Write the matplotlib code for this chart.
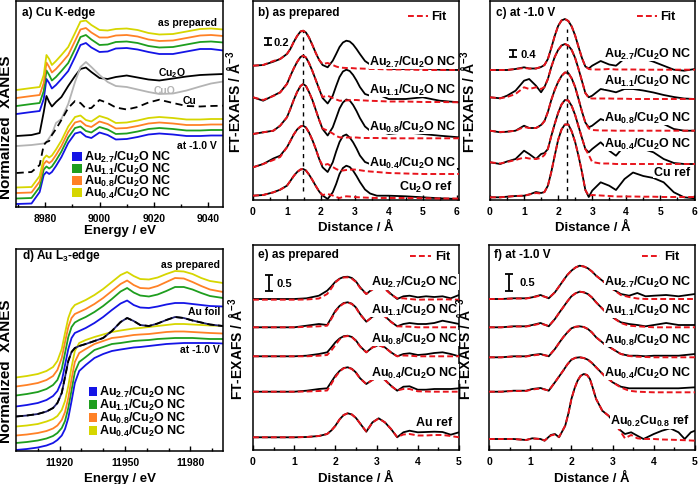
import matplotlib
matplotlib.use('Agg')
import matplotlib.pyplot as plt
from matplotlib.patches import Rectangle

plt.rcParams['font.family'] = ['Liberation Sans', 'DejaVu Sans']
plt.rcParams['font.weight'] = 'bold'
plt.rcParams['axes.labelweight'] = 'bold'
plt.rcParams['mathtext.fontset'] = 'custom'
plt.rcParams['mathtext.rm'] = 'Liberation Sans:bold'
plt.rcParams['mathtext.it'] = 'Liberation Sans:bold'
plt.rcParams['mathtext.bf'] = 'Liberation Sans:bold'

# ---------------- data (y in arbitrary stacked units) ----------------
labels = ['Au$_{2.7}$/Cu$_2$O NC', 'Au$_{1.1}$/Cu$_2$O NC',
          'Au$_{0.8}$/Cu$_2$O NC', 'Au$_{0.4}$/Cu$_2$O NC']

# a) Cu K-edge XANES
a_E = [8969.5, 8975, 8978, 8979.5, 8980.5, 8981.5, 8982.5, 8984, 8986, 8988.5, 8991, 8993, 8995,
       8997, 9000, 9003, 9006, 9010, 9014, 9018, 9022, 9027, 9032, 9037, 9041, 9045.5]
a_prep_27 = [93, 95, 96, 108, 128, 124, 118.5, 122, 128, 136, 150, 162, 164, 159.5, 155, 155.5,
             158.5, 159, 157.5, 155, 153, 153, 155.5, 158, 158, 156.5]
a_prep_11 = [101, 103, 104, 116, 136.5, 132, 126.5, 130, 136, 144, 158, 170, 172, 167.5, 162,
             162.5, 165, 165.5, 164, 161, 159.5, 160, 162.5, 165, 165.5, 164.5]
a_prep_08 = [109, 111, 112, 124, 144.5, 140, 134.5, 138, 144, 152, 166, 177.5, 179, 174.5, 169.5,
             169.5, 171.5, 172, 170.5, 167.5, 166, 166.5, 169, 171.5, 172, 171]
a_prep_04 = [117, 119, 120, 132, 152, 148, 142, 146, 152, 160, 174, 185.5, 186.5, 182, 177, 176.5,
             178, 178.5, 177, 174, 172.5, 173, 175.5, 178, 178.5, 177.5]
a_cu2o = [71, 72, 74, 95, 111, 105, 100.5, 105, 110, 121, 131, 138, 139.5, 135, 129, 128, 130,
          131.5, 129.5, 127.5, 126.5, 128.5, 130.5, 132, 132.5, 133]
a_cuo = [61, 62, 63, 63.5, 65, 69, 73, 84, 88, 103, 125, 140, 145, 140, 132, 125, 121, 120,
         117.5, 115, 113, 113.5, 116.5, 120.5, 123.5, 125.5]
a_cu = [34, 35, 42, 62, 65, 66, 72, 78, 87, 99, 106, 104, 98.5, 99, 107, 104, 99.5, 97.5, 100,
        104.5, 107.3, 104, 101, 100.5, 101, 101.3]
a_v_27 = [3, 3.5, 15, 32, 35, 33, 35, 41, 50, 64, 73.5, 75, 70.5, 69, 74.5, 72, 67.5, 68, 70,
          72.5, 73.5, 72.5, 71, 71, 71.5, 71.5]
a_v_11 = [8.5, 9, 20, 37.5, 40.5, 38.5, 40.5, 46.5, 55.5, 69.5, 79, 80.5, 76, 74.5, 80, 77.5, 73,
          73.5, 75.5, 78, 79, 78, 76.5, 76.5, 77, 77]
a_v_08 = [14, 14.5, 25.5, 43, 46, 44, 46, 52, 61, 75, 84.5, 86, 81.5, 80, 85.5, 83, 78.5, 79,
          81, 83.5, 84.5, 83.5, 82, 82, 82.5, 82.5]
a_v_04 = [19.5, 20, 31, 48.5, 51.5, 49.5, 51.5, 57.5, 66.5, 80.5, 90, 91.5, 87, 85.5, 91, 88.5,
          84, 84.5, 86.5, 89, 90, 89, 87.5, 87.5, 88, 88]

# d) Au L3-edge XANES
d_E = [11900, 11905, 11910, 11914, 11917, 11919, 11921, 11922.5, 11924, 11925.5, 11927, 11929,
       11932, 11936, 11940, 11944, 11948, 11951, 11954, 11957, 11961, 11965, 11969, 11973, 11977,
       11981, 11985, 11989, 11995]
d_prep_04 = [73.5, 75, 77, 80, 84, 90, 102, 118, 133, 142, 146, 148, 151, 156, 162, 169, 176, 179,
             175, 172, 171.5, 173.5, 177, 180, 179.5, 177, 173, 170, 168]
d_prep_08 = [64.5, 66, 68, 71, 75, 81, 93, 109, 124, 133, 137, 139, 142, 147, 153, 160, 167, 170.5,
             166, 163, 162.5, 165, 169, 173, 172.5, 169, 165, 161.5, 159]
d_prep_11 = [55.5, 57, 59, 62, 66, 71, 82, 98, 114, 124, 128.5, 131, 134, 139, 145, 152, 159.5, 163,
             158.5, 155.5, 154.5, 156.5, 160, 164, 164, 161.5, 158, 155, 153]
d_prep_27 = [44.5, 46, 48, 51, 55, 60, 70, 86, 102, 113, 118, 120, 123, 128, 134, 141, 147.5, 150.5,
             146, 143.5, 143, 144.5, 146.5, 148, 148, 147, 146, 145, 144.5]
d_foil = [34.5, 35.5, 37, 39.5, 43, 48, 58, 74, 90, 99, 103, 105, 107, 110, 113, 120, 129, 133, 130,
          126, 125, 127.5, 131, 134, 133, 130.5, 128.5, 126.5, 125]
d_v_04 = [24.5, 25.5, 27, 29.5, 32, 35, 41, 50, 65, 84, 100, 108, 111, 114, 116.5, 119, 120.5,
          121.5, 122.5, 123, 124, 125, 126, 127, 127, 126.5, 126, 125.5, 125]
d_v_08 = [15.5, 16.5, 18, 20, 22.5, 25.5, 31, 39, 53, 72, 89, 98, 102, 107, 110, 113, 114, 115, 116,
          116.5, 117, 118, 119, 119.5, 119.5, 119, 118.5, 118, 117.5]
d_v_11 = [8, 9, 10.5, 12.5, 15, 18, 23, 30, 43, 61, 79, 89, 94, 101, 104, 107, 108, 109, 110, 110.5,
          111, 112, 112.5, 113, 113, 113, 112.5, 112, 112]
d_v_27 = [1, 2, 3.5, 5.5, 8, 11, 15.5, 22, 33, 50, 68, 80, 86, 93, 97, 100, 101.5, 102.5, 103.5,
          104, 105, 106, 107, 107.5, 108, 108, 108, 108, 107.5]

# b) FT-EXAFS Cu K, as prepared
b_r = [0, 0.3, 0.6, 0.8, 1.0, 1.1, 1.2, 1.3, 1.4, 1.48, 1.56, 1.65, 1.75, 1.85, 1.95, 2.05, 2.2,
       2.35, 2.45, 2.55, 2.65, 2.75, 2.85, 2.95, 3.05, 3.15, 3.3, 3.45, 3.65, 4.0, 4.5, 5.0, 5.5,
       6.07]
b_27 = [134.3, 135, 138.3, 141, 146, 151, 158, 164, 168.5, 169.3, 167.5, 162.5, 155, 147, 140,
        135, 132.7, 139.3, 146, 153, 157.5, 159.3, 158.5, 155.5, 151, 146, 139, 135.5, 134.3, 131,
        131, 131.7, 130.3, 130]
b_27_fit = [134.3, 135, 139, 141, 146, 151, 158, 164, 168.5, 169.3, 167.5, 162.5, 155, 147, 140,
            136, 137, 135, 133.5, 132.5, 132.2, 132, 132, 131.8, 131.5, 131.5, 131.3, 131, 131,
            130.5, 130.5, 130, 130, 130]
b_11 = [102.7, 99.3, 104.3, 107.7, 116, 124, 131.5, 138, 143, 144.3, 142.5, 137, 129, 120, 111,
        102, 96.5, 104.3, 114, 123, 128.5, 130.3, 129, 125, 119.5, 113, 106, 104.3, 106, 101, 101,
        102.7, 99.3, 97.7]
b_11_fit = [102.7, 100, 104, 107.5, 116, 124, 131.5, 138, 143, 144.3, 142.5, 137, 129, 120, 111,
            103, 104.3, 102, 100.5, 99.3, 99.3, 99.5, 99.8, 100, 100, 99.7, 99.5, 99.2, 99, 98.5,
            98.5, 98, 98, 97.7]
b_08 = [66, 67.7, 69.3, 74.3, 82.7, 91, 100, 108, 114, 116, 114, 108, 100, 90, 80, 71, 64.5,
        72.7, 82, 91.5, 97.5, 100.5, 99.5, 95, 89, 82, 73.5, 69.3, 69.3, 66, 67.7, 66, 64.3, 62.7]
b_08_fit = [66, 67.7, 69.3, 74.3, 82.7, 91, 100, 108, 114, 116, 114, 108, 100, 90, 80, 71.5,
            69.3, 66.5, 64, 62.7, 62.5, 62.5, 62.5, 62.5, 62.5, 62.2, 62, 62, 62, 61.7, 61.7,
            61.7, 61.7, 61.7]
b_04 = [32.7, 36, 41.5, 44.3, 52.7, 59, 65.5, 70.5, 73.5, 74.3, 72.5, 67.5, 60, 51, 41, 32.7,
        28, 37.7, 48.5, 58, 64, 65.5, 62.5, 57.7, 51.5, 44.5, 38, 36, 34.3, 31, 34.3, 31, 32.7, 31]
b_04_fit = [32.7, 36, 40, 43, 52.7, 59, 65.5, 70.5, 73.5, 74.3, 72.5, 67.5, 60, 51, 41, 34.5,
            36, 33, 31, 29.5, 29.5, 30, 30.3, 30.5, 30.3, 29.8, 29, 28.5, 28, 27, 26.5, 26, 26,
            26]
b_ref = [4.3, 5, 7.7, 10.3, 14.3, 19, 24, 28, 30.5, 31, 29.5, 25.5, 20, 14, 8.5, 4.5, 1, 7.7,
         16, 26, 32, 34.3, 33, 29.3, 24, 18, 10.5, 6.5, 4.3, 4.3, 3.7, 2.7, 1.7, 1]
b_ref_fit = [4.3, 5, 7.7, 10.3, 14.3, 19, 24, 28, 30.5, 31, 29.5, 25.5, 20, 14, 8.5, 5, 6, 4.5,
             3, 2, 3, 3.7, 3.5, 3, 2.8, 2.6, 2.4, 2.2, 2, 2, 2, 1.8, 1.5, 1.5]

# c) FT-EXAFS Cu K, at -1.0 V
c_r = [0, 0.3, 0.5, 0.75, 1.0, 1.15, 1.35, 1.5, 1.6, 1.7, 1.8, 1.9, 2.0, 2.1, 2.2, 2.3, 2.4, 2.5,
       2.6, 2.7, 2.8, 2.9, 3.0, 3.25, 3.5, 3.7, 3.95, 4.2, 4.5, 4.8, 5.1, 5.4, 5.7, 6.02]
c_27 = [130, 130, 130, 131, 132.7, 131.5, 131.5, 133, 135, 141, 152, 164, 174, 179.5, 181, 179,
        173.5, 164.5, 153, 142, 133.5, 131.5, 134.3, 139, 135.5, 134.3, 141.5, 142.7, 141.7,
        138.3, 134.3, 130.3, 129.3, 131]
c_27_fit = [130, 130, 130, 131, 132, 131.5, 131.5, 133, 135, 141, 152, 164, 174, 179.5, 181, 179,
            173.5, 164.5, 153, 142, 133.5, 131, 130.5, 130.5, 131, 130.5, 130.5, 130.5, 130.3,
            130.3, 130.3, 130.3, 130.3, 130.3]
c_11 = [102.7, 101.7, 104.3, 109.3, 119.3, 121, 114.3, 107.7, 113, 121, 133, 143, 150, 154.5,
        156, 154.5, 150, 142, 131, 119, 107, 102.7, 104.3, 111, 109.3, 107.7, 111, 111, 109.5,
        107.5, 105, 103, 101.5, 101]
c_11_fit = [102.7, 101.7, 103, 106, 112.7, 111, 112.7, 111, 113, 121, 133, 143, 150, 154.5, 156,
            154.5, 150, 142, 131, 119, 107, 102, 101.5, 101.5, 101.5, 101.3, 101.3, 101, 101, 101,
            101, 101, 101, 101]
c_08 = [69.3, 67.7, 68.3, 69.3, 74.3, 72, 72, 75, 79, 88, 100, 110, 118, 124, 127.5, 127, 121.5,
        113, 101, 88.5, 77.5, 72.7, 74.3, 81, 77.7, 79.3, 85, 89.3, 87.7, 82.7, 76, 71, 69.3, 69.3]
c_08_fit = [69.3, 68, 68.3, 69.3, 73, 72, 72, 74.5, 79, 88, 100, 110, 118, 124, 127.5, 127, 121.5,
            113, 101, 88.5, 77.5, 71.5, 70, 69.5, 69.5, 69.3, 69.3, 69.3, 69.3, 69.3, 69.3, 69.3,
            69.3, 69.3]
c_04 = [37.7, 36, 38.5, 41, 49.3, 46, 41, 46, 47, 51, 64, 76, 87, 95.5, 100, 99.5, 94, 85, 73.5,
        62, 51, 47.7, 51, 57.7, 49.3, 44.3, 54.3, 57.7, 51, 47.7, 41, 37, 36, 36]
c_04_fit = [37.7, 36.5, 38, 40, 42.5, 41.5, 41, 42, 45, 51, 64, 76, 87, 95.5, 100, 99.5, 94, 85,
            73.5, 62, 51, 45, 38, 36.5, 36.5, 36, 36, 36, 36, 36, 36, 36, 36, 36]
c_ref = [2.7, 2.7, 3.3, 4, 4.3, 5.5, 8, 7, 8, 14.3, 28, 44.3, 60, 70.5, 75.5, 75.5, 68.5, 58, 44,
         28, 10, 3, 9.3, 17.7, 14.3, 10, 21, 27.5, 24, 22, 17.7, 7.7, 2.7, 1.7]
c_ref_fit = [2.7, 2.7, 3.3, 4, 4.3, 5.5, 7, 6.5, 8, 14.3, 28, 44.3, 60, 70.5, 75.5, 75.5, 68.5,
             58, 44, 28, 10, 4, 5, 4.5, 4, 3.5, 3.5, 3.5, 3.3, 3.3, 3, 3, 3, 3]

# e) FT-EXAFS Au L3, as prepared
e_r = [0, 0.5, 1.0, 1.3, 1.6, 1.8, 1.9, 2.0, 2.1, 2.2, 2.3, 2.4, 2.5, 2.6, 2.75, 2.9, 3.05, 3.2,
       3.35, 3.5, 3.65, 3.8, 4.0, 4.2, 4.4, 4.6, 4.8, 5.0]
e_27 = [151, 151, 151, 151.7, 154.3, 159.3, 163.5, 168.3, 171.3, 173, 173.3, 172, 168.5, 162.7,
        156, 161, 164.3, 161.7, 156, 151, 153.7, 154.3, 152.7, 153.7, 153, 153.7, 151.7, 155]
e_27_fit = [150.3, 150.3, 150.3, 150.5, 151.5, 156, 161.5, 167.7, 171, 172.5, 172.7, 171.3, 168,
            162, 156, 160.5, 163.7, 161, 155.5, 151.7, 151.7, 151, 150.3, 150.5, 150.5, 150.7,
            150.5, 150.3]
e_11 = [122.7, 122.7, 122.7, 124.3, 126, 125, 132, 139.3, 144, 147, 147.7, 146.3, 142.5, 136,
        128.3, 133.3, 136, 133.7, 128.3, 123.7, 126, 127, 126, 126, 127, 129.3, 127.7, 126]
e_11_fit = [122.7, 122.7, 122.7, 123.2, 123.7, 124.3, 131, 138.3, 143.5, 146.5, 147.5, 146, 142,
            135.5, 128.3, 133, 135.7, 133.5, 128, 123.7, 123.5, 123.3, 122.7, 122.7, 122.7, 122.7,
            122.7, 122.7]
e_08 = [93.7, 93.7, 93.7, 94.3, 96, 97.7, 102.5, 107.7, 111.5, 113.8, 114.3, 113, 109.5, 103.7,
        97.7, 102.7, 105, 102.7, 97.7, 93.7, 96, 96.7, 95, 95.7, 97, 97.7, 96, 93.7]
e_08_fit = [93.7, 93.7, 93.7, 93.7, 94.3, 95, 99.5, 105, 110.5, 113.3, 114, 112.8, 109, 103.5,
            97.7, 102.5, 104.7, 102.5, 97.5, 93.7, 94.5, 94.3, 93.7, 93.7, 93.7, 93.7, 93.7, 93.7]
e_04 = [58.3, 58.3, 58.3, 59.3, 61, 61.7, 68, 74.3, 79, 82, 82.7, 81.2, 77.5, 71.7, 66, 70.3,
        72.7, 70.3, 64.3, 59.3, 63.3, 63.7, 60.3, 60.3, 61, 61, 61, 61.7]
e_04_fit = [58.3, 58.3, 58.3, 58.5, 59, 59.5, 66, 73, 78.5, 81.7, 82.5, 81, 77, 71.5, 66, 70,
            72.5, 70, 64, 59.5, 61, 61, 58.7, 58.5, 58.3, 58.3, 58.3, 58.3]
e_ref = [12.7, 12.7, 12.7, 13, 14, 16, 19.5, 24.3, 30.5, 35, 36.7, 35.5, 32, 26.5, 18.3, 27.7,
         31.7, 27.7, 21, 12.7, 17.7, 19.3, 17.7, 18, 18.3, 18, 15.3, 17.7]
e_ref_fit = [12.7, 12.7, 12.7, 13, 14, 16, 19.5, 24, 30.5, 35, 36.7, 35.5, 32, 26.5, 18.5, 27.5,
             31.5, 27.7, 21, 13, 15.5, 16, 14.5, 14.5, 15, 15, 14, 12.7]

# f) FT-EXAFS Au L3, at -1.0 V
f_r = [0, 0.3, 0.6, 0.9, 1.05, 1.25, 1.45, 1.6, 1.7, 1.8, 1.9, 2.0, 2.1, 2.2, 2.3, 2.4, 2.5, 2.6,
       2.8, 3.0, 3.2, 3.4, 3.6, 3.8, 4.0, 4.3, 4.6, 5.0]
f_27 = [151, 151, 151.7, 151.7, 152.7, 155, 151.7, 157.7, 163.5, 169.3, 175, 179.3, 182.5, 184.3,
        183.5, 181.7, 178.5, 174.3, 167.7, 161, 156, 154.3, 157, 153.7, 154.3, 155, 153.7, 156]
f_27_fit = [151, 151, 151.5, 151.5, 152.5, 154.5, 152, 157.7, 163.5, 169.3, 175, 179.3, 182.5,
            184.3, 183.5, 181.7, 178.5, 174.3, 167.7, 161, 155, 153, 151.5, 151, 151, 151, 151,
            151]
f_11 = [122.7, 122.7, 123.7, 123.7, 125, 127, 123.7, 131, 137, 142.7, 148.5, 153.7, 156.7, 158.3,
        157.7, 156, 152.5, 147.7, 139.3, 132.7, 127.7, 126, 125, 123.7, 125, 127, 125, 125]
f_11_fit = [122.7, 122.7, 123.5, 123.5, 124.5, 126.5, 124, 131, 137, 142.7, 148.5, 153.7, 156.7,
            158.3, 157.7, 156, 152.5, 147.7, 139.3, 132.7, 127, 124.3, 123.7, 123.2, 122.7,
            122.7, 122.7, 122.7]
f_08 = [92.7, 92.7, 93.7, 93.7, 95, 96, 93.7, 101, 107, 112.7, 117.5, 121.7, 123.2, 123.7, 123,
        121, 117.5, 112.7, 106, 101, 96, 94.3, 94.3, 93.7, 94.3, 94.3, 94.3, 96]
f_08_fit = [92.7, 92.7, 93.5, 93.5, 94.5, 95.5, 94, 101, 107, 112.7, 117.5, 121.7, 123.2, 123.7,
            123, 121, 117.5, 112.7, 106, 101, 96, 94, 93.3, 93, 92.7, 92.7, 92.7, 92.7]
f_04 = [58.3, 58.3, 59.3, 59.3, 61, 62, 59.3, 67.7, 73.5, 79.3, 85.5, 90.3, 92.2, 92.7, 92, 90.3,
        87, 82.7, 74.3, 67.7, 63.3, 61.7, 61.7, 61.7, 61.7, 61.7, 61.7, 62.7]
f_04_fit = [58.3, 58.3, 59, 59, 60.5, 61.5, 59.5, 67.7, 73.5, 79.3, 85.5, 90.3, 92.2, 92.7, 92,
            90.3, 87, 82.7, 74.3, 67.7, 62.5, 59.3, 58.3, 58, 57.7, 57.7, 57.7, 57.7]
f_ref_r = [0, 0.3, 0.6, 0.9, 1.05, 1.25, 1.35, 1.5, 1.6, 1.7, 1.85, 1.93, 2.0, 2.08, 2.15, 2.22,
           2.3, 2.38, 2.45, 2.52, 2.6, 2.75, 2.9, 3.0, 3.15, 3.3, 3.45, 3.6, 3.75, 4.0, 4.2, 4.4,
           4.6, 4.75, 4.9, 5.0]
f_ref = [11, 11, 11, 10, 11.7, 11, 9.3, 15, 16, 12.7, 24.3, 37, 51, 62, 69.3, 74, 76, 75, 71, 62,
         51, 39.3, 34.3, 29.3, 21, 16, 17.7, 14.3, 11, 16, 19.3, 21.7, 17.7, 11, 17.7, 19.3]
f_ref_fit = [11, 11, 11, 10, 11.5, 11, 9.5, 14.5, 15.5, 13, 24.3, 37, 51, 62, 69.3, 74, 76, 75,
             71, 62, 51, 39.3, 34.3, 29.3, 21, 11.7, 15, 11.7, 11, 11, 10.5, 10.3, 10, 9.8, 9.5,
             9.3]

# ---------------- styling ----------------
BLUE, GREEN, ORANGE, YELLOW = '#1414e6', '#1e9e1e', '#ff8126', '#d6d600'
RED, GREY = '#e8141c', '#b4b4b4'
sample_colors = [BLUE, GREEN, ORANGE, YELLOW]
FIT_LS = (0, (3, 1.6))

fig = plt.figure(figsize=(7, 4.85), dpi=100)


def add_ax(l, r, t, b):
    return fig.add_axes([l / 700, 1 - b / 485, (r - l) / 700, (b - t) / 485])


def style(ax, xlabel, ylabel, ylab_x, ylab_y=0.5, xlab_y=-0.105, ylab_size=10):
    ax.set_xlabel(xlabel, fontsize=9.5, fontweight='bold')
    ax.xaxis.set_label_coords(0.5, xlab_y)
    ax.set_ylabel(ylabel, fontsize=ylab_size, fontweight='bold')
    ax.yaxis.set_label_coords(ylab_x, ylab_y)
    ax.set_yticks([])
    ax.tick_params(axis='x', which='both', direction='in', labelsize=7.5, pad=4.5)
    ax.tick_params(axis='x', which='major', length=3.5, width=1)
    ax.tick_params(axis='x', which='minor', length=2, width=1)
    for s in ax.spines.values():
        s.set_linewidth(1.1)


def ft_panel(ax, r, pairs, ref_r, ref, ref_fit):
    for data, fit in pairs:
        ax.plot(r, data, color='k', lw=1.3, zorder=2, solid_joinstyle='round')
        ax.plot(r, fit, color=RED, lw=1.4, ls=FIT_LS, zorder=3)
    ax.plot(ref_r, ref, color='k', lw=1.3, zorder=2, solid_joinstyle='round')
    ax.plot(ref_r, ref_fit, color=RED, lw=1.4, ls=FIT_LS, zorder=3)


def ft_labels(ax, xr, ys, ref_text, ref_xy):
    for lab, y in zip(labels, ys):
        ax.text(xr, y, lab, ha='right', va='center', fontsize=9, fontweight='bold', zorder=5,
                bbox=dict(facecolor='white', edgecolor='none', pad=0.3))
    ax.text(ref_xy[0], ref_xy[1], ref_text, ha='right', va='center', fontsize=9,
            fontweight='bold', zorder=5, bbox=dict(facecolor='white', edgecolor='none', pad=0.3))


def fit_key(ax, x0, x1, y):
    ax.plot([x0, x1], [y, y], color=RED, lw=1.4, ls=FIT_LS)
    ax.text(x1 + 0.1, y, 'Fit', ha='left', va='center', fontsize=9, fontweight='bold')


def scale_bar(ax, x, y0, y1, text, xt):
    ax.errorbar([x], [(y0 + y1) / 2], yerr=[(y1 - y0) / 2], fmt='none', ecolor='k',
                elinewidth=1.3, capsize=3, capthick=1.3)
    ax.text(xt, (y0 + y1) / 2, text, ha='left', va='center', fontsize=8, fontweight='bold')


# ---------------- a) ----------------
ax = add_ax(16, 223, 2, 208)
for ys, c in zip([a_prep_27, a_prep_11, a_prep_08, a_prep_04], sample_colors):
    ax.plot(a_E, ys, color=c, lw=1.3, solid_joinstyle='round')
for ys, c in zip([a_v_27, a_v_11, a_v_08, a_v_04], sample_colors):
    ax.plot(a_E, ys, color=c, lw=1.3, solid_joinstyle='round')
ax.plot(a_E, a_cu2o, color='k', lw=1.3, solid_joinstyle='round')
ax.plot(a_E, a_cuo, color=GREY, lw=1.3, solid_joinstyle='round')
ax.plot(a_E, a_cu, color='k', lw=1.3, ls=(0, (4, 2.5)))
ax.set_xlim(8969.3, 9045.4)
ax.set_ylim(0, 206)
ax.set_xticks([8980, 9000, 9020, 9040])
ax.set_xticks([8970, 8990, 9010, 9030], minor=True)
style(ax, 'Energy / eV', 'Normalized  XANES', -0.015, 0.39, -0.083, 11)
ax.text(8971.5, 195, 'a) Cu K-edge', fontsize=8.5, fontweight='bold', va='center')
ax.text(9043.2, 185, 'as prepared', fontsize=7.5, fontweight='bold', ha='right', va='center')
ax.text(9021.5, 135, 'Cu$_2$O', fontsize=7.5, fontweight='bold', ha='left', va='center')
ax.text(9020, 117.5, 'CuO', fontsize=7.5, fontweight='bold', ha='left', va='center', color=GREY)
ax.text(9030.7, 107.5, 'Cu', fontsize=7.5, fontweight='bold', ha='left', va='center')
ax.text(9043.2, 62, 'at -1.0 V', fontsize=7.5, fontweight='bold', ha='right', va='center')
for i, (lab, c) in enumerate(zip(labels, sample_colors)):
    yy = 51 - 12 * i
    ax.add_patch(Rectangle((8989.9, yy - 4.5), 3.6, 9, color=c, lw=0))
    ax.text(8994.3, yy, lab, fontsize=9, fontweight='bold', va='center')

# ---------------- d) ----------------
ax = add_ax(16, 223, 250, 452)
for ys, c in zip([d_prep_27, d_prep_11, d_prep_08, d_prep_04], sample_colors):
    ax.plot(d_E, ys, color=c, lw=1.3, solid_joinstyle='round')
for ys, c in zip([d_v_27, d_v_11, d_v_08, d_v_04], sample_colors):
    ax.plot(d_E, ys, color=c, lw=1.3, solid_joinstyle='round')
ax.plot(d_E, d_foil, color='#23236e', lw=1.3)
ax.plot(d_E, d_foil, color='k', lw=1.3, ls=(0, (4, 2)))
ax.set_xlim(11900, 11995)
ax.set_ylim(0, 202)
ax.set_xticks([11920, 11950, 11980])
ax.set_xticks([11910, 11930, 11940, 11960, 11970, 11990], minor=True)
style(ax, 'Energy / eV', 'Normalized  XANES', -0.015, 0.4, -0.105, 11)
ax.text(11902.8, 196, 'd) Au L$_3$-edge', fontsize=8.5, fontweight='bold', va='center')
ax.text(11993.6, 187, 'as prepared', fontsize=7.5, fontweight='bold', ha='right', va='center')
ax.text(11993.6, 140, 'Au foil', fontsize=7.5, fontweight='bold', ha='right', va='center')
ax.text(11993.6, 102, 'at -1.0 V', fontsize=7.5, fontweight='bold', ha='right', va='center')
for i, (lab, c) in enumerate(zip(labels, sample_colors)):
    yy = 59.3 - 13 * i
    ax.add_patch(Rectangle((11933.5, yy - 4.5), 3.7, 9, color=c, lw=0))
    ax.text(11938.1, yy, lab, fontsize=9, fontweight='bold', va='center')

# ---------------- b) ----------------
ax = add_ax(253, 459, 2, 201)
ft_panel(ax, b_r, [(b_27, b_27_fit), (b_11, b_11_fit), (b_08, b_08_fit), (b_04, b_04_fit)],
         b_r, b_ref, b_ref_fit)
ax.plot([1.48, 1.48], [9, 169], color='k', lw=1, ls=(0, (3, 3)))
ax.set_xlim(0, 6.07)
ax.set_ylim(0, 199)
ax.set_xticks(range(0, 7))
ax.set_xticks([0.5, 1.5, 2.5, 3.5, 4.5, 5.5], minor=True)
style(ax, 'Distance / Å', 'FT-EXAFS / Å$^{-3}$', -0.0485, 0.5, -0.104)
ax.text(0.14, 188, 'b) as prepared', fontsize=8.5, fontweight='bold', va='center')
fit_key(ax, 4.56, 5.15, 184)
scale_bar(ax, 0.45, 155, 161.7, '0.2', 0.61)
ft_labels(ax, 6.0, [139, 111, 74, 38], 'Cu$_2$O ref', (5.87, 14))

# ---------------- c) ----------------
ax = add_ax(490, 695, 2, 201)
ft_panel(ax, c_r, [(c_27, c_27_fit), (c_11, c_11_fit), (c_08, c_08_fit), (c_04, c_04_fit)],
         c_r, c_ref, c_ref_fit)
ax.plot([2.25, 2.25], [1, 171], color='k', lw=1, ls=(0, (3, 3)))
ax.set_xlim(0, 6.02)
ax.set_ylim(0, 199)
ax.set_xticks(range(0, 7))
ax.set_xticks([0.5, 1.5, 2.5, 3.5, 4.5, 5.5], minor=True)
style(ax, 'Distance / Å', 'FT-EXAFS / Å$^{-3}$', -0.063, 0.5, -0.104)
ax.text(0.18, 188, 'c) at -1.0 V', fontsize=8.5, fontweight='bold', va='center')
fit_key(ax, 4.31, 4.9, 184)
scale_bar(ax, 0.69, 142.7, 150.3, '0.4', 0.91)
ft_labels(ax, 5.93, [147, 119.3, 83, 57], 'Cu ref', (5.87, 28))

# ---------------- e) ----------------
ax = add_ax(253, 459, 246, 451)
ft_panel(ax, e_r, [(e_27, e_27_fit), (e_11, e_11_fit), (e_08, e_08_fit), (e_04, e_04_fit)],
         e_r, e_ref, e_ref_fit)
ax.set_xlim(0, 5)
ax.set_ylim(0, 205)
ax.set_xticks(range(0, 6))
ax.set_xticks([0.5, 1.5, 2.5, 3.5, 4.5], minor=True)
style(ax, 'Distance / Å', 'FT-EXAFS / Å$^{-3}$', -0.039, 0.5, -0.106)
ax.text(0.13, 196, 'e) as prepared', fontsize=8.5, fontweight='bold', va='center')
fit_key(ax, 3.82, 4.31, 194.3)
scale_bar(ax, 0.38, 159.3, 175, '0.5', 0.58)
ft_labels(ax, 4.98, [168.3, 141, 111.7, 77.7], 'Au ref', (4.84, 28.3))

# ---------------- f) ----------------
ax = add_ax(489, 695, 246, 451)
ft_panel(ax, f_r, [(f_27, f_27_fit), (f_11, f_11_fit), (f_08, f_08_fit), (f_04, f_04_fit)],
         f_ref_r, f_ref, f_ref_fit)
ax.set_xlim(0, 5)
ax.set_ylim(0, 205)
ax.set_xticks(range(0, 6))
ax.set_xticks([0.5, 1.5, 2.5, 3.5, 4.5], minor=True)
style(ax, 'Distance / Å', 'FT-EXAFS / Å$^{-3}$', -0.078, 0.5, -0.106)
ax.text(0.12, 196, 'f) at -1.0 V', fontsize=8.5, fontweight='bold', va='center')
fit_key(ax, 3.71, 4.15, 194.3)
scale_bar(ax, 0.49, 159.3, 176, '0.5', 0.73)
ft_labels(ax, 4.93, [168.3, 140.3, 111, 77.7], 'Au$_{0.2}$Cu$_{0.8}$ ref', (4.88, 29.3))

fig.savefig('out.png', dpi=100)
